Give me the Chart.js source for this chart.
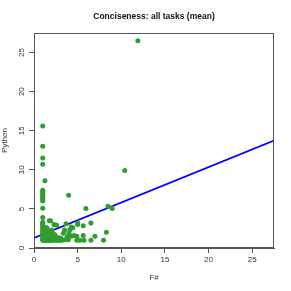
<!DOCTYPE html>
<html>
<head>
<meta charset="utf-8">
<script src="https://cdn.jsdelivr.net/npm/chart.js@4"></script>
<style>
  html, body { margin: 0; padding: 0; background: #fff; }
  #wrap { width: 291px; height: 291px; }
</style>
</head>
<body>
<div id="wrap"><canvas id="scatterChart" width="291" height="291"></canvas></div>
<script>
// F# (x) vs Python (y), one point per task
const fsharp = [
    1, 1, 1, 1, 1.25, 1, 1, 1, 1, 1, 1, 1, 1, 1, 1, 1, 1, 1, 1, 1, 1, 1, 1, 1, 1, 1, 1, 1,
    11.9, 10.4, 3.97, 5.95, 8.47, 8.96, 5.64, 6.52, 8.3, 6.98, 5.26, 5.72, 6.52, 7.97,
    1.9, 2.29, 1.5, 2.07, 3.36, 4.1, 4.3, 4.9, 5.64, 3.55, 3.93, 4.9, 5.0, 5.0, 3.66, 4.27, 4.45, 1.75,
    4.0, 3.5, 4.6, 3.8, 2.6, 2.9, 3.1,
    1.1, 1.2, 1.3, 1.4, 1.5, 1.6, 1.7, 1.8, 1.9, 2.0, 2.2, 2.4, 2.6, 2.8, 3.0, 3.2,
    1.2, 1.4, 1.6, 1.8, 2.0, 2.3, 2.5, 2.7, 3.0,
    1.1, 1.3, 1.5, 1.7, 1.9, 2.2, 2.5,
    1.2, 1.4, 1.6, 1.9, 2.1, 2.4,
    1.3, 1.5, 1.8, 2.0,
    1.2, 1.6, 2.2, 1.4
];
const python = [
    15.6, 13.0, 11.5, 10.7, 8.6, 7.4, 7.2, 7.0, 6.8, 6.6, 6.4, 6.2, 6.0, 5.1, 3.9, 3.3, 3.1, 2.9, 2.7, 2.5, 2.3, 2.1, 1.9, 1.7, 1.5, 1.3, 1.1, 1.0,
    26.5, 9.9, 6.75, 5.04, 5.33, 5.04, 2.86, 3.2, 2.0, 1.5, 1.0, 1.0, 1.0, 1.0,
    3.5, 3.0, 2.55, 2.3, 1.9, 2.35, 1.5, 1.5, 1.6, 1.06, 1.06, 1.0, 3.2, 3.0, 3.1, 2.7, 2.6, 3.5,
    1.9, 2.3, 1.6, 1.45, 2.9, 1.3, 1.2,
    1.0, 1.0, 1.0, 1.0, 1.0, 1.0, 1.0, 1.0, 1.0, 1.0, 1.0, 1.0, 1.0, 1.0, 1.0, 1.0,
    1.2, 1.2, 1.2, 1.2, 1.2, 1.2, 1.2, 1.2, 1.2,
    1.4, 1.4, 1.4, 1.4, 1.4, 1.4, 1.4,
    1.7, 1.7, 1.7, 1.7, 1.7, 1.7,
    2.0, 2.0, 2.0, 2.0,
    2.3, 2.2, 1.8, 2.6
];
// fitted line, read at both ends of the axis
const fitX = [0, 27.5];
const fitY = [1.28, 13.74];

const axisMax = 27.5;
const xTicks = [0, 5, 10, 15, 20, 25];
const yTicks = [0, 5, 10, 15, 20, 25];
const titleText = 'Conciseness: all tasks (mean)';

const FONT = "'Liberation Sans', Arial, sans-serif";

// title over the plot, box round it and rotated y tick labels, R style
const rStyle = {
    id: 'rStyle',
    afterDraw(chart) {
        const { ctx, chartArea: a, scales } = chart;
        ctx.save();
        ctx.strokeStyle = '#555';
        ctx.lineWidth = 1;
        ctx.strokeRect(a.left + 0.5, a.top + 0.5, a.right - a.left - 1, a.bottom - a.top - 1);

        ctx.fillStyle = '#111';
        ctx.font = 'bold 8.5px ' + FONT;
        ctx.textAlign = 'center';
        ctx.textBaseline = 'middle';
        ctx.fillText(titleText, (a.left + a.right) / 2, 17);

        ctx.fillStyle = '#333';
        ctx.font = '8px ' + FONT;
        yTicks.forEach(v => {
            const py = scales.y.getPixelForValue(v);
            ctx.save();
            ctx.translate(22, py);
            ctx.rotate(-Math.PI / 2);
            ctx.fillText(String(v), 0, 0);
            ctx.restore();
        });
        ctx.restore();
    }
};

new Chart(document.getElementById('scatterChart').getContext('2d'), {
    type: 'scatter',
    data: {
        datasets: [
            {
                label: 'tasks',
                data: fsharp.map((x, i) => ({ x: x, y: python[i] })),
                backgroundColor: '#2f9e2f',
                borderWidth: 0,
                pointRadius: 2.5
            },
            {
                label: 'fit',
                type: 'line',
                data: fitX.map((x, i) => ({ x: x, y: fitY[i] })),
                borderColor: '#0000ff',
                borderWidth: 1.8,
                pointRadius: 0,
                fill: false
            }
        ]
    },
    options: {
        responsive: false,
        animation: false,
        clip: true,
        layout: { padding: { left: 0, right: 17, top: 33, bottom: 0 } },
        plugins: {
            legend: { display: false },
            tooltip: { enabled: false },
            title: { display: false }
        },
        scales: {
            x: {
                type: 'linear',
                min: 0,
                max: axisMax,
                afterBuildTicks: s => { s.ticks = xTicks.map(v => ({ value: v })); },
                afterFit: s => { s.height = 43; },
                grid: { drawOnChartArea: false, drawTicks: true, tickLength: 5, color: '#555' },
                border: { display: true, color: '#555' },
                ticks: { color: '#333', padding: 2, font: { family: FONT, size: 8 }, maxRotation: 0 },
                title: {
                    display: true,
                    text: 'F#',
                    color: '#333',
                    font: { family: FONT, size: 8 },
                    padding: { top: 0, bottom: 8 }
                }
            },
            y: {
                type: 'linear',
                min: 0,
                max: axisMax,
                afterBuildTicks: s => { s.ticks = yTicks.map(v => ({ value: v })); },
                afterFit: s => { s.width = 34; },
                grid: { drawOnChartArea: false, drawTicks: true, tickLength: 5, color: '#555' },
                border: { display: true, color: '#555' },
                ticks: { color: 'rgba(0,0,0,0)', font: { family: FONT, size: 8 } },
                title: {
                    display: true,
                    text: 'Python',
                    color: '#333',
                    font: { family: FONT, size: 8 },
                    padding: { top: 0, bottom: 0 }
                }
            }
        }
    },
    plugins: [rStyle]
});
</script>
</body>
</html>
